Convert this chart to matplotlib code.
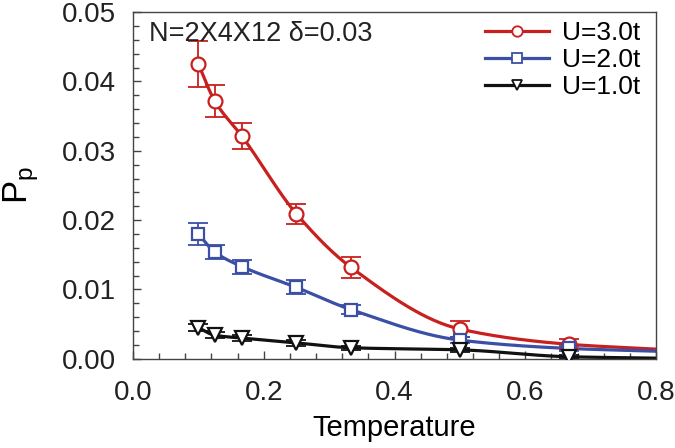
"""
Pairing correlation P_p versus temperature for three values of U.
"""

import numpy as np
import matplotlib
matplotlib.use('Agg')
import matplotlib.pyplot as plt
from matplotlib.ticker import MultipleLocator

plt.rcParams['font.family'] = ['Liberation Sans', 'DejaVu Sans']

# temperatures of the data points
temps = [0.1, 0.125, 0.1667, 0.25, 0.3333, 0.5, 0.6667]

# U = 3.0t
p_u3 = [0.0425, 0.0372, 0.0321, 0.0209, 0.0132, 0.0043, 0.0021]
err_u3 = [0.0033, 0.0023, 0.0019, 0.0015, 0.0015, 0.0011, 0.0007]
# U = 2.0t
p_u2 = [0.0180, 0.0154, 0.0133, 0.0103, 0.0071, 0.0027, 0.0015]
err_u2 = [0.0016, 0.0010, 0.0010, 0.0010, 0.0006, 0.0004, 0.0003]
# U = 1.0t
p_u1 = [0.0045, 0.0034, 0.0030, 0.0023, 0.0016, 0.0013, 0.0003]
err_u1 = [0.0005, 0.0004, 0.0004, 0.0004, 0.0003, 0.0003, 0.0002]

# the drawn curves continue to the edge of the axis
t_end = 0.8
end_vals = [0.0014, 0.0011, 0.0001]


# monotone cubic (Fritsch-Carlson) used only to draw a smooth line through the points
def smooth(x, y, n=300):
    x = np.asarray(x, float)
    y = np.asarray(y, float)
    h = np.diff(x)
    d = np.diff(y) / h
    m = np.zeros_like(y)
    m[0], m[-1] = d[0], d[-1]
    for i in range(1, len(y) - 1):
        if d[i - 1] * d[i] > 0:
            w1 = 2 * h[i] + h[i - 1]
            w2 = h[i] + 2 * h[i - 1]
            m[i] = (w1 + w2) / (w1 / d[i - 1] + w2 / d[i])
    xs = np.linspace(x[0], x[-1], n)
    k = np.clip(np.searchsorted(x, xs) - 1, 0, len(x) - 2)
    t = (xs - x[k]) / h[k]
    h00 = 2 * t**3 - 3 * t**2 + 1
    h10 = t**3 - 2 * t**2 + t
    h01 = -2 * t**3 + 3 * t**2
    h11 = t**3 - t**2
    ys = h00 * y[k] + h10 * h[k] * m[k] + h01 * y[k + 1] + h11 * h[k] * m[k + 1]
    return xs, ys


fig = plt.figure(figsize=(6.75, 4.48), dpi=100)
ax = fig.add_axes([0.197, 0.199, 0.775, 0.774])

series = [
    ('U=3.0t', p_u3, err_u3, end_vals[0], '#c8201e', 'o', 10),
    ('U=2.0t', p_u2, err_u2, end_vals[1], '#3a4fa5', 's', 9),
    ('U=1.0t', p_u1, err_u1, end_vals[2], '#111111', 'v', 10),
]

for label, vals, errs, end, color, marker, ms in series:
    xs, ys = smooth(temps + [t_end], vals + [end])
    ax.plot(xs, ys, color=color, lw=2.3, zorder=2)
    ax.errorbar(temps, vals, yerr=errs, fmt='none', ecolor=color, elinewidth=1.3,
                capsize=7, capthick=1.3, zorder=3)
    ax.plot(temps, vals, linestyle='none', marker=marker, ms=ms, mfc='white',
            mec=color, mew=1.6, zorder=4)
    # legend entry
    ax.plot([], [], color=color, lw=2.3, marker=marker, ms=ms * 0.75, mfc='white',
            mec=color, mew=1.3, label=label)

ax.set_xlim(0, 0.8)
ax.set_ylim(0, 0.05)
ax.xaxis.set_major_locator(MultipleLocator(0.2))
ax.xaxis.set_minor_locator(MultipleLocator(0.04))
ax.yaxis.set_major_locator(MultipleLocator(0.01))
ax.yaxis.set_minor_locator(MultipleLocator(0.002))
ax.xaxis.set_major_formatter(plt.FormatStrFormatter('%.1f'))
ax.yaxis.set_major_formatter(plt.FormatStrFormatter('%.2f'))
ax.tick_params(which='both', direction='in', labelsize=20, colors='#444444',
               labelcolor='#222222', top=False, right=False)
ax.tick_params(which='major', length=6, width=1)
ax.tick_params(which='minor', length=4, width=1)
ax.tick_params(axis='y', which='major', pad=12)
ax.tick_params(axis='x', which='major', pad=15)
for s in ax.spines.values():
    s.set_color('#444444')
    s.set_linewidth(1)

ax.set_xlabel('Temperature', fontsize=21, labelpad=6)
ax.set_ylabel('P$_\\mathregular{p}$', fontsize=25)
ax.yaxis.set_label_coords(-0.175, 0.5)

ax.text(0.03, 0.975, 'N=2X4X12 δ=0.03', transform=ax.transAxes,
        fontsize=19.5, va='top', ha='left', color='#222222')

ax.legend(loc='upper right', frameon=False, fontsize=19, handlelength=2.4,
          handletextpad=0.5, borderaxespad=0.0, labelspacing=0.12,
          bbox_to_anchor=(0.99, 1.005))

fig.savefig('out.png', dpi=100)
